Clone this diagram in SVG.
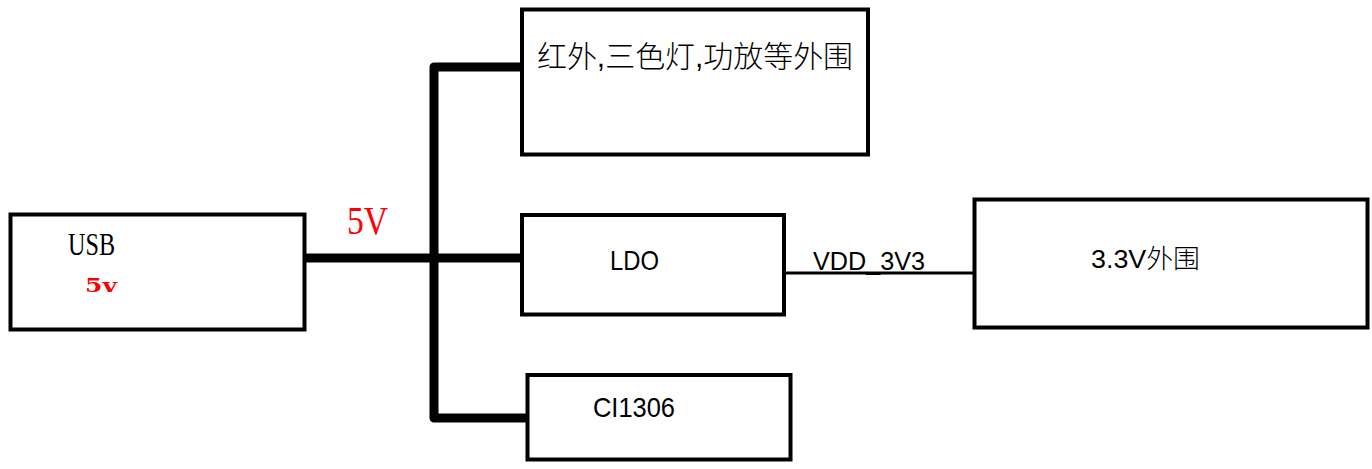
<svg xmlns="http://www.w3.org/2000/svg" width="1372" height="469" viewBox="0 0 1372 469">
<style>
.box{fill:#fff;stroke:#000;stroke-width:4}
.sans{font-family:"Liberation Sans",Arial,sans-serif;fill:#000}
.cjk{font-family:"Liberation Sans","Noto Sans CJK SC",sans-serif;fill:#000;font-weight:300}
.serif{font-family:"Liberation Serif","Times New Roman",serif}
.bus{fill:none;stroke:#000;stroke-width:9;stroke-linecap:round;stroke-linejoin:round}
.wire{fill:none;stroke:#000;stroke-width:3}
</style>
<rect width="1372" height="469" fill="#fff"/>
<g id="connectors">
<path class="bus" d="M522 67 L434 67 L434 418 L525 418"/>
<path class="bus" d="M303 258 L522 258"/>
<path class="wire" d="M784 273 L974 273"/>
<text class="serif" x="347" y="234" font-size="41" fill="#ff0000" textLength="41" lengthAdjust="spacingAndGlyphs">5V</text>
<text class="sans" x="813" y="270" font-size="25" textLength="112" lengthAdjust="spacingAndGlyphs">VDD_3V3</text>
</g>
<g id="usb">
<rect class="box" x="10.5" y="214.5" width="294" height="115"/>
<text class="serif" x="68" y="255" font-size="32" fill="#000" textLength="47" lengthAdjust="spacingAndGlyphs">USB</text>
<text x="85" y="292" font-family="'DejaVu Serif','Courier New',serif" font-weight="bold" font-size="19" fill="#ff0000" textLength="32" lengthAdjust="spacingAndGlyphs">5v</text>
</g>
<g id="peripherals">
<rect class="box" x="522" y="9.5" width="346" height="145"/>
<text class="cjk" x="537" y="67" font-size="30" textLength="316" lengthAdjust="spacingAndGlyphs">红外,三色灯,功放等外围</text>
</g>
<g id="ldo">
<rect class="box" x="522" y="215" width="262" height="99.5"/>
<text class="sans" x="610" y="270" font-size="28" textLength="49" lengthAdjust="spacingAndGlyphs">LDO</text>
</g>
<g id="periph33">
<rect class="box" x="974.5" y="199.5" width="393" height="128"/>
<text class="cjk" x="1091" y="268" font-size="26" textLength="109" lengthAdjust="spacingAndGlyphs">3.3V外围</text>
</g>
<g id="ci1306">
<rect class="box" x="527.5" y="375" width="263" height="84.5"/>
<text class="sans" x="593" y="417" font-size="28" textLength="82" lengthAdjust="spacingAndGlyphs">CI1306</text>
</g>
</svg>
